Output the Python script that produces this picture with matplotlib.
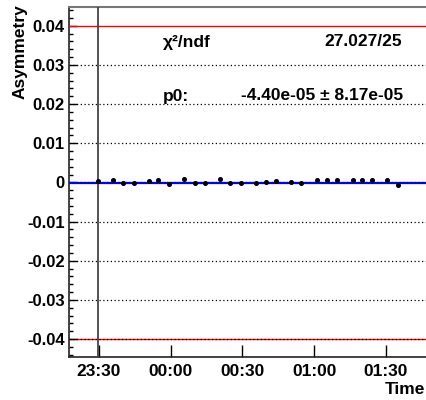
import numpy as np
import pandas as pd
import matplotlib
matplotlib.use("Agg")
import matplotlib.pyplot as plt
import matplotlib.dates as mdates
from matplotlib.ticker import MultipleLocator, FixedLocator

plt.rcParams["font.family"] = ["Liberation Sans", "DejaVu Sans"]
plt.rcParams["font.weight"] = "bold"

# run times (minutes after 23:30) and asymmetry per run
run_minutes = [-0.5, 6.0, 10.2, 14.6, 21.0, 24.8, 29.3, 35.6, 40.0, 44.5, 50.6, 55.0, 59.3,
               65.7, 69.9, 73.9, 80.3, 84.5, 91.1, 95.3, 99.7, 106.2, 110.2, 114.3, 120.6, 125.2]
asym = [0.00025, 0.0005, -0.0002, -0.0002, 0.00045, 0.0007, -0.00045, 0.0009, -0.0001,
        -0.0001, 0.0008, -0.0002, -0.0002, -0.00025, 0.00015, 0.00045, 0.00015, -0.00025,
        0.0007, 0.0007, 0.0006, 0.0005, 0.0007, 0.0006, 0.0005, -0.0007]
asym_err = [0.0004] * len(asym)

fit_p0 = -4.40e-05
fit_p0_err = 8.17e-05
chi2, ndf = 27.027, 25
limit = 0.04

t0 = pd.Timestamp("2000-01-01 23:30:00")
times = [t0 + pd.Timedelta(minutes=m) for m in run_minutes]
xticks = [t0 + pd.Timedelta(minutes=30 * k) for k in range(5)]
xlim = (t0 - pd.Timedelta(minutes=12.5), t0 + pd.Timedelta(minutes=137.2))

W, H = 426, 400
fig = plt.figure(figsize=(W / 100, H / 100), dpi=100)
ax = fig.add_axes([69 / W, 1 - 357 / H, (427 - 69) / W, 350 / H])

ax.set_xlim(xlim)
ax.set_ylim(-0.0446, 0.0448)

# grid
for y in np.arange(-0.04, 0.035, 0.01):
    ax.axhline(y, color="black", lw=0.9, ls=(0, (1, 2)), zorder=2)

ax.axhline(limit, color="red", lw=1.0, zorder=3)
ax.axhline(-limit, color="red", lw=1.0, zorder=1)
ax.axhline(fit_p0, color="blue", lw=1.6, zorder=3)
ax.axvline(times[0], color="#444444", lw=1.3, zorder=3)

ax.errorbar(times, asym, yerr=asym_err, fmt="o", color="black", ms=2.6,
            elinewidth=1, capsize=0, zorder=4)

ax.xaxis.set_major_locator(FixedLocator(mdates.date2num(xticks)))
ax.xaxis.set_major_formatter(mdates.DateFormatter("%H:%M"))
ax.yaxis.set_major_locator(MultipleLocator(0.01))
ax.yaxis.set_minor_locator(MultipleLocator(0.002))
ax.yaxis.set_major_formatter(lambda v, p: "0" if abs(v) < 1e-9 else f"{v:.2f}")

ax.tick_params(axis="y", which="major", direction="in", length=6, width=1, pad=3,
               labelsize=12)
ax.tick_params(axis="y", which="minor", direction="in", length=3, width=1)
ax.tick_params(axis="x", which="major", direction="in", length=8.5, width=1, pad=5,
               labelsize=12.5)
for lbl in ax.get_xticklabels() + ax.get_yticklabels():
    lbl.set_fontweight("bold")

for side in ["left", "bottom"]:
    ax.spines[side].set_color("#222222")
    ax.spines[side].set_linewidth(1.2)
ax.spines["top"].set_color("#777777")
ax.spines["top"].set_linewidth(1.5)

fig.text(20 / W, 1 - 4 / H, "Asymmetry", rotation=90, ha="center", va="top",
         fontsize=12.5, fontweight="bold")
fig.text(425 / W, 1 - 389 / H, "Time", ha="right", va="center",
         fontsize=12.5, fontweight="bold")

fig.text(163 / W, 1 - 43 / H, "χ²/ndf", ha="left", va="center", fontsize=12.5,
         fontweight="bold")
fig.text(402 / W, 1 - 41 / H, f"{chi2:.3f}/{ndf}", ha="right", va="center",
         fontsize=12.5, fontweight="bold")
fig.text(163 / W, 1 - 96 / H, "p0:", ha="left", va="center", fontsize=12.5,
         fontweight="bold")
fig.text(403 / W, 1 - 95 / H, f"{fit_p0:.2e} ± {fit_p0_err:.2e}", ha="right",
         va="center", fontsize=12.5, fontweight="bold")

fig.savefig("out.png", dpi=100)
